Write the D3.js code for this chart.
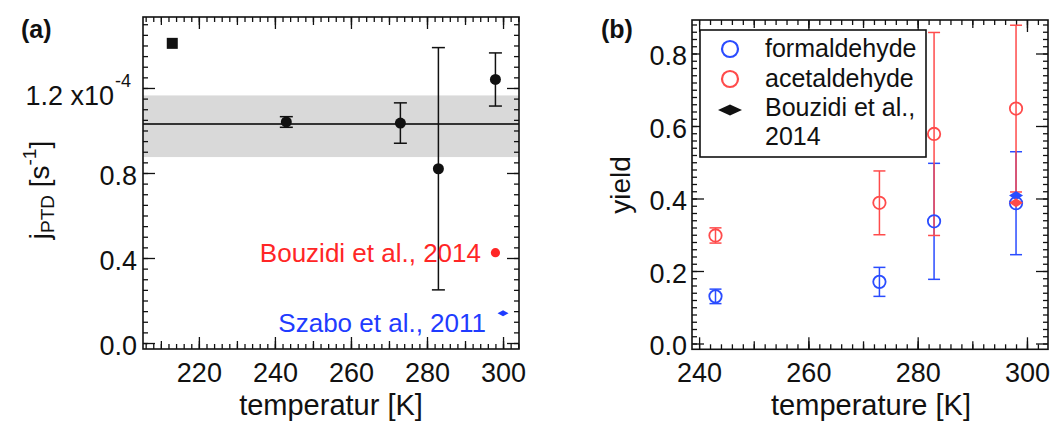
<!DOCTYPE html>
<html>
<meta charset="utf-8">
<head>
<style>
  body { margin: 0; background: #fff; }
  svg text { font-family: "Liberation Sans", Arial, sans-serif; fill: #111; }
</style>
<script src="https://d3js.org/d3.v7.min.js"></script>
</head>
<body>
<svg id="chart" width="1056" height="424"></svg>
<script>
// ---- panel (a): j_PTD vs temperature (units of 1e-4 s^-1)
var aTemp = [243, 273, 283, 298];
var aRate = [1.04, 1.035, 0.82, 1.24];
var aRateErr = [0.025, 0.095, 0.57, 0.125];
var aLowTemp = [213];
var aLowRate = [1.41];
var aMeanRate = [1.03];
var aMeanBand = [0.875, 1.165];
var bouzidiRateTemp = [298];
var bouzidiRate = [0.425];
var szaboRateTemp = [300];
var szaboRate = [0.14];
var aXTicks = [220, 240, 260, 280, 300];
var aYTicks = [0, 0.4, 0.8, 1.2];

// ---- panel (b): yields
var bTemp = [243, 273, 283, 298];
var formYield = [0.13, 0.17, 0.337, 0.387];
var formErr = [0.02, 0.04, 0.16, 0.142];
var acetYield = [0.298, 0.388, 0.578, 0.648];
var acetErr = [0.021, 0.088, 0.28, 0.23];
var bouzidiTemp = [298];
var bouzidiForm = [0.408];
var bouzidiAcet = [0.388];
var bXTicks = [240, 260, 280, 300];
var bYTicks = [0, 0.2, 0.4, 0.6, 0.8];

var RED = "#ff2626", BLUE = "#1f3cff";
var RED_B = "#ff4b4b", BLUE_B = "#2a4cff";

var svg = d3.select("#chart");

// inward ticks on all four sides
function sideTicks(g, x, y, xv, yv, len) {
  var xr = x.range(), yr = y.range();
  var parts = [
    [d3.axisBottom(x).tickValues(xv), "translate(0," + yr[0] + ")"],
    [d3.axisTop(x).tickValues(xv), "translate(0," + yr[1] + ")"],
    [d3.axisLeft(y).tickValues(yv), "translate(" + xr[0] + ",0)"],
    [d3.axisRight(y).tickValues(yv), "translate(" + xr[1] + ",0)"]
  ];
  parts.forEach(function(p) {
    var a = g.append("g").attr("transform", p[1])
      .call(p[0].tickSize(-len).tickFormat(""));
    a.select(".domain").remove();
    a.selectAll("line").attr("stroke", "#111").attr("stroke-width", 1.3);
  });
}

function labels(g, x, y, xv, yv, fmt, xpad, ypad) {
  var xr = x.range(), yr = y.range();
  var xa = g.append("g").attr("transform", "translate(0," + yr[0] + ")")
    .call(d3.axisBottom(x).tickValues(xv).tickSize(0).tickPadding(xpad).tickFormat(d3.format("d")));
  var ya = g.append("g").attr("transform", "translate(" + xr[0] + ",0)")
    .call(d3.axisLeft(y).tickValues(yv).tickSize(0).tickPadding(ypad).tickFormat(fmt));
  [xa, ya].forEach(function(a) {
    a.select(".domain").remove();
    a.selectAll("text").attr("font-size", 27).attr("font-family", null).attr("fill", "#111");
  });
  ya.selectAll("text").attr("dy", "0.42em");
  return ya;
}

function frameRect(g, x, y) {
  var xr = x.range(), yr = y.range();
  g.append("rect").attr("x", xr[0]).attr("y", yr[1])
    .attr("width", xr[1] - xr[0]).attr("height", yr[0] - yr[1])
    .attr("fill", "none").attr("stroke", "#111").attr("stroke-width", 1.6);
}

function errBars(g, x, y, xs, ys, es, color, cap) {
  var gg = g.append("g").attr("stroke", color).attr("stroke-width", 1.5);
  xs.forEach(function(t, i) {
    var lo = y(ys[i] - es[i]), hi = y(ys[i] + es[i]), cx = x(t);
    gg.append("line").attr("x1", cx).attr("x2", cx).attr("y1", lo).attr("y2", hi);
    gg.append("line").attr("x1", cx - cap / 2).attr("x2", cx + cap / 2).attr("y1", lo).attr("y2", lo);
    gg.append("line").attr("x1", cx - cap / 2).attr("x2", cx + cap / 2).attr("y1", hi).attr("y2", hi);
  });
}

function diamond(w, h) {
  return "M" + (-w / 2) + ",0L0," + (-h / 2) + "L" + (w / 2) + ",0L0," + (h / 2) + "Z";
}

// ================= panel (a)
var xa = d3.scaleLinear().domain([205.3, 304.2]).range([143, 519]);
var ya = d3.scaleLinear().domain([-0.0282, 1.534]).range([349, 17]);
var ga = svg.append("g");

ga.append("rect").attr("x", 143).attr("width", 376)
  .attr("y", ya(aMeanBand[1])).attr("height", ya(aMeanBand[0]) - ya(aMeanBand[1]))
  .attr("fill", "#d9d9d9");
ga.append("line").attr("x1", 143).attr("x2", 519)
  .attr("y1", ya(aMeanRate[0])).attr("y2", ya(aMeanRate[0]))
  .attr("stroke", "#333").attr("stroke-width", 2);

sideTicks(ga, xa, ya, d3.range(206, 305, 2), d3.range(0, 1.53, 0.05), 5);
sideTicks(ga, xa, ya, d3.range(210, 305, 10), [], 8);
sideTicks(ga, xa, ya, aXTicks, aYTicks, 12);
var yLab = labels(ga, xa, ya, aXTicks, aYTicks, d3.format(".1f"), 14, 6);
yLab.selectAll(".tick text").filter(function(d) { return Math.abs(d - 1.2) < 1e-9; })
  .text("1.2 x10").attr("x", -12).attr("dy", "0.62em")
  .append("tspan").attr("dx", 1).attr("dy", -18).attr("font-size", 18).text("-4");
frameRect(ga, xa, ya);

errBars(ga, xa, ya, aTemp, aRate, aRateErr, "#111", 13);
ga.selectAll("circle.pt").data(aTemp).enter().append("circle")
  .attr("cx", function(d) { return xa(d); })
  .attr("cy", function(d, i) { return ya(aRate[i]); })
  .attr("r", 5.5).attr("fill", "#111");
ga.selectAll("rect.sq").data(aLowTemp).enter().append("rect")
  .attr("x", function(d) { return xa(d) - 5.5; })
  .attr("y", function(d, i) { return ya(aLowRate[i]) - 5.5; })
  .attr("width", 11).attr("height", 11).attr("fill", "#111");

ga.selectAll("circle.bz").data(bouzidiRateTemp).enter().append("circle")
  .attr("cx", function(d) { return xa(d); })
  .attr("cy", function(d, i) { return ya(bouzidiRate[i]); })
  .attr("r", 4.6).attr("fill", RED);
ga.selectAll("path.sz").data(szaboRateTemp).enter().append("path")
  .attr("transform", function(d, i) { return "translate(" + xa(d) + "," + ya(szaboRate[i]) + ")"; })
  .attr("d", diamond(11, 6)).attr("fill", BLUE);

ga.append("text").attr("x", 481).attr("y", 262).attr("text-anchor", "end")
  .attr("font-size", 26).style("fill", RED).text("Bouzidi et al., 2014");
ga.append("text").attr("x", 486).attr("y", 332).attr("text-anchor", "end")
  .attr("font-size", 26).style("fill", BLUE).text("Szabo et al., 2011");

ga.append("text").attr("x", 331).attr("y", 415).attr("text-anchor", "middle")
  .attr("font-size", 29).text("temperatur [K]");
var yt = ga.append("text").attr("transform", "translate(49,190) rotate(-90)")
  .attr("text-anchor", "middle").attr("font-size", 28);
yt.append("tspan").text("j");
yt.append("tspan").attr("font-size", 19).attr("dy", 5).text("PTD");
yt.append("tspan").attr("dy", -5).text(" [s");
yt.append("tspan").attr("font-size", 19).attr("dy", -13).text("-1");
yt.append("tspan").attr("dy", 13).text("]");

svg.append("text").attr("x", 21).attr("y", 38).attr("font-size", 25)
  .attr("font-weight", "bold").text("(a)");

// ================= panel (b)
var xb = d3.scaleLinear().domain([238.7, 303.85]).range([692, 1048]);
var yb = d3.scaleLinear().domain([-0.016, 0.8924]).range([349.3, 20]);
var gb = svg.append("g");

sideTicks(gb, xb, yb, d3.range(240, 304, 2), d3.range(0, 0.89, 0.02), 5);
sideTicks(gb, xb, yb, d3.range(250, 304, 10), [], 8);
sideTicks(gb, xb, yb, bXTicks, bYTicks, 12);
labels(gb, xb, yb, bXTicks, bYTicks, d3.format(".1f"), 14, 5);
frameRect(gb, xb, yb);

errBars(gb, xb, yb, bTemp, formYield, formErr, BLUE_B, 12);
errBars(gb, xb, yb, bTemp, acetYield, acetErr, RED_B, 12);
[[formYield, BLUE_B], [acetYield, RED_B]].forEach(function(s) {
  gb.append("g").selectAll("circle").data(bTemp).enter().append("circle")
    .attr("cx", function(d) { return xb(d); })
    .attr("cy", function(d, i) { return yb(s[0][i]); })
    .attr("r", 6.2).attr("fill", "#fff").attr("fill-opacity", 0)
    .attr("stroke", s[1]).attr("stroke-width", 1.8);
});
[[bouzidiForm, BLUE_B], [bouzidiAcet, RED_B]].forEach(function(s) {
  gb.append("g").selectAll("path").data(bouzidiTemp).enter().append("path")
    .attr("transform", function(d, i) { return "translate(" + xb(d) + "," + yb(s[0][i]) + ")"; })
    .attr("d", diamond(14, 9)).attr("fill", s[1]);
});

// legend
var lg = gb.append("g");
lg.append("rect").attr("x", 700).attr("y", 30).attr("width", 226).attr("height", 127)
  .attr("fill", "#fff").attr("stroke", "#111").attr("stroke-width", 1.6);
lg.append("circle").attr("cx", 730).attr("cy", 49).attr("r", 8)
  .attr("fill", "none").attr("stroke", BLUE_B).attr("stroke-width", 2.2);
lg.append("circle").attr("cx", 730).attr("cy", 79).attr("r", 8)
  .attr("fill", "none").attr("stroke", RED_B).attr("stroke-width", 2.2);
lg.append("path").attr("transform", "translate(730,110)").attr("d", diamond(24, 11)).attr("fill", "#111");
[["formaldehyde", 57], ["acetaldehyde", 87], ["Bouzidi et al.,", 116], ["2014", 145]].forEach(function(t) {
  lg.append("text").attr("x", 765).attr("y", t[1]).attr("font-size", 25).text(t[0]);
});

gb.append("text").attr("x", 871).attr("y", 415).attr("text-anchor", "middle")
  .attr("font-size", 29).text("temperature [K]");
gb.append("text").attr("transform", "translate(630,185) rotate(-90)")
  .attr("text-anchor", "middle").attr("font-size", 28).text("yield");

svg.append("text").attr("x", 601).attr("y", 38).attr("font-size", 25)
  .attr("font-weight", "bold").text("(b)");
</script>
</body>
</html>
